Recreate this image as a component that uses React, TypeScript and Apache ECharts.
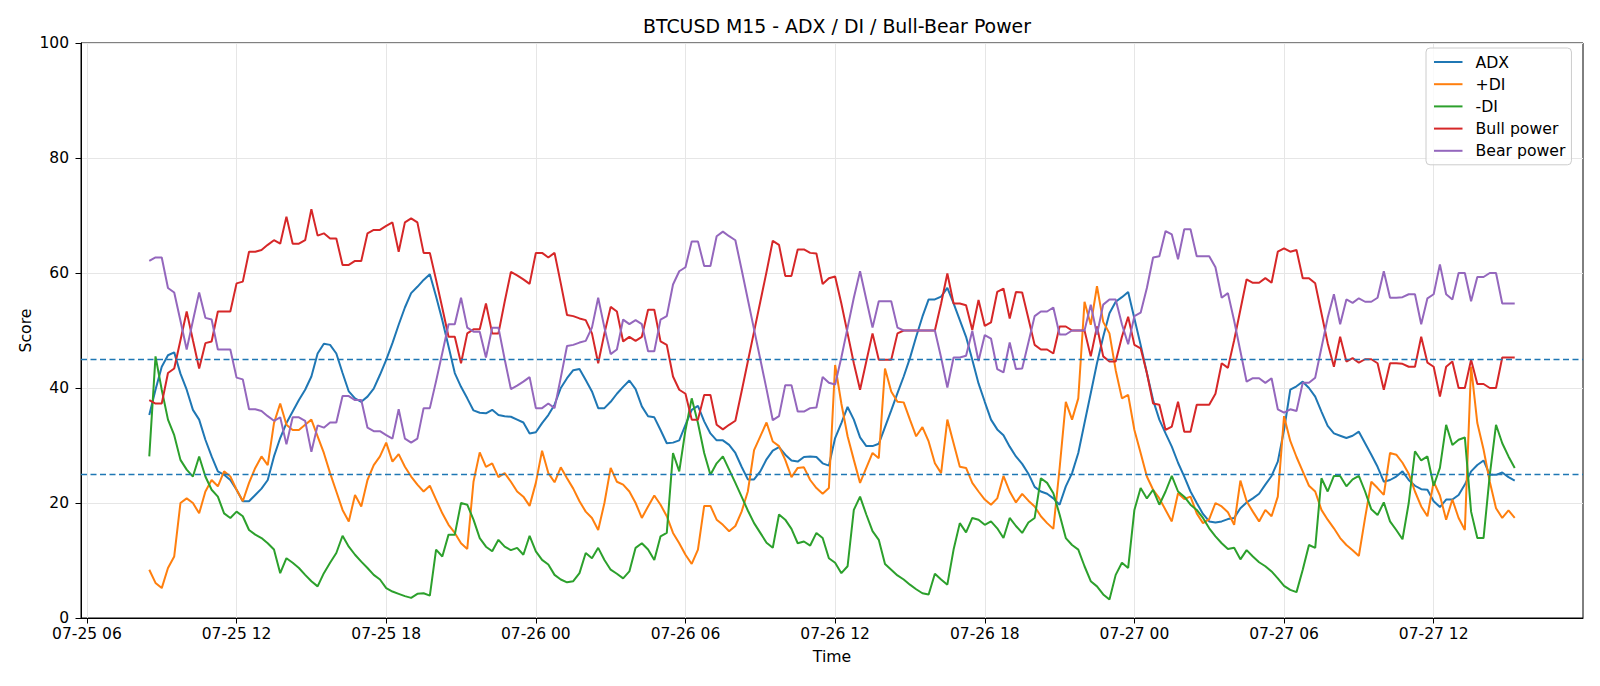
import React, { useEffect, useRef } from 'react';
import * as echarts from 'echarts';

// 15-minute bars, first bar 07-25 08:30 (hours counted from 07-25 00:00)
const START_HOUR = 8.5;
const STEP_HOURS = 0.25;

const TICK_HOURS = [6, 12, 18, 24, 30, 36, 42, 48, 54, 60];
const TICK_LABELS = [
  '07-25 06', '07-25 12', '07-25 18', '07-26 00', '07-26 06',
  '07-26 12', '07-26 18', '07-27 00', '07-27 06', '07-27 12',
];

const ADX = [
  35.3, 39.7, 43.7, 45.7, 46.2, 42.5, 39.7, 36.2, 34.5, 31.0, 28.1, 25.5, 24.9, 24.0, 22.3, 20.3, 20.3, 21.4, 22.5, 24.0,
  28.1, 31.3, 33.9, 35.9, 37.9, 39.7, 42.0, 46.0, 47.7, 47.5, 46.0, 42.6, 39.4, 38.2, 37.6, 38.5, 39.9, 42.3, 44.9, 47.8,
  51.0, 54.0, 56.5, 57.6, 58.8, 59.8, 55.9, 51.8, 47.2, 42.6, 40.2, 38.2, 36.1, 35.7, 35.6, 36.2, 35.3, 35.1, 35.0, 34.5,
  34.0, 32.1, 32.3, 33.9, 35.3, 37.1, 40.0, 41.7, 43.1, 43.3, 41.4, 39.4, 36.5, 36.5, 37.6, 39.0, 40.2, 41.3, 39.8, 36.8,
  35.1, 34.9, 32.7, 30.4, 30.5, 30.9, 33.6, 36.2, 36.9, 34.2, 32.1, 30.9, 30.9, 30.1, 28.7, 26.3, 24.1, 24.1, 25.5, 27.6,
  29.1, 29.7, 28.4, 27.4, 27.2, 28.0, 28.1, 28.0, 26.9, 26.5, 31.3, 33.9, 36.7, 34.5, 31.4, 29.9, 29.9, 30.3, 33.2, 36.1,
  39.1, 42.0, 45.2, 48.9, 52.4, 55.4, 55.4, 55.9, 57.4, 54.7, 51.8, 48.9, 44.9, 40.8, 37.6, 34.5, 32.8, 31.8, 29.8, 28.1,
  26.8, 25.1, 22.8, 22.0, 21.6, 20.8, 19.7, 22.9, 25.2, 28.7, 33.9, 39.1, 44.3, 48.9, 53.0, 55.0, 55.8, 56.7, 52.1, 47.5,
  42.6, 37.9, 34.5, 32.1, 29.8, 27.0, 24.6, 22.0, 20.0, 18.1, 16.8, 16.6, 16.8, 17.2, 17.4, 19.1, 20.1, 20.8, 21.6, 23.2,
  24.7, 27.2, 32.7, 39.7, 40.3, 41.1, 40.0, 38.5, 35.9, 33.4, 32.1, 31.7, 31.3, 31.7, 32.4, 30.4, 28.4, 26.3, 23.7, 24.0,
  24.6, 25.5, 24.0, 23.0, 22.4, 22.3, 20.3, 19.3, 20.6, 20.6, 21.4, 23.2, 25.5, 26.6, 27.4, 24.9, 24.9, 25.3, 24.5, 23.9,
];

const PLUS_DI = [
  8.4, 6.1, 5.2, 8.7, 10.7, 20.0, 20.8, 20.0, 18.2, 22.0, 24.0, 22.9, 25.5, 24.6, 22.3, 20.3, 23.5, 26.1, 28.1, 26.6,
  33.9, 37.3, 33.6, 32.7, 32.7, 33.6, 34.5, 31.6, 28.7, 25.2, 22.0, 18.8, 16.8, 21.4, 19.4, 24.0, 26.6, 28.1, 30.5, 27.2,
  28.5, 26.3, 24.6, 23.2, 22.0, 23.0, 20.6, 18.2, 16.2, 14.8, 13.0, 12.0, 23.7, 28.8, 26.3, 26.9, 24.5, 25.2, 23.7, 22.0,
  21.1, 19.5, 23.5, 29.1, 25.2, 23.6, 26.2, 24.3, 22.5, 20.3, 18.5, 17.4, 15.3, 20.0, 26.1, 23.7, 23.2, 22.0, 20.0, 17.4,
  19.4, 21.3, 19.7, 17.7, 14.8, 13.0, 11.0, 9.4, 11.9, 19.5, 19.5, 17.1, 16.2, 15.1, 16.0, 18.5, 22.0, 29.2, 31.6, 34.0,
  30.7, 29.9, 27.5, 24.5, 26.1, 26.2, 24.0, 22.6, 21.6, 22.6, 44.0, 37.3, 31.6, 27.5, 23.5, 26.1, 28.7, 27.8, 43.4, 39.4,
  37.6, 37.5, 34.5, 31.6, 33.2, 30.7, 26.9, 25.2, 34.5, 30.4, 26.3, 26.1, 23.5, 22.0, 20.6, 19.7, 20.8, 24.7, 22.0, 20.1,
  21.6, 20.4, 19.4, 17.7, 16.5, 15.5, 26.0, 37.6, 34.5, 38.2, 55.0, 51.0, 57.7, 51.5, 49.5, 43.1, 38.2, 38.8, 32.7, 28.7,
  24.6, 22.3, 20.8, 18.8, 16.8, 21.7, 20.7, 21.1, 18.2, 16.5, 17.2, 20.0, 19.4, 18.4, 16.2, 23.9, 20.3, 18.5, 16.8, 18.8,
  17.7, 21.1, 35.1, 30.8, 28.0, 25.5, 23.0, 22.0, 18.8, 17.1, 15.6, 13.9, 12.7, 11.8, 10.8, 17.4, 23.7, 22.6, 21.4, 28.7,
  28.4, 27.0, 25.1, 22.0, 19.4, 17.7, 23.7, 21.3, 17.1, 20.6, 17.4, 15.3, 43.7, 33.9, 29.3, 23.7, 19.1, 17.4, 18.7, 17.4,
];

const MINUS_DI = [
  28.1, 45.5, 39.7, 34.5, 31.8, 27.5, 25.8, 24.6, 28.1, 24.6, 22.3, 21.1, 18.2, 17.4, 18.5, 17.7, 15.3, 14.5, 13.9, 13.0,
  11.9, 7.8, 10.4, 9.6, 8.7, 7.5, 6.4, 5.5, 7.8, 9.6, 11.3, 14.3, 12.4, 11.0, 9.8, 8.7, 7.5, 6.7, 5.2, 4.6,
  4.2, 3.8, 3.5, 4.2, 4.3, 3.9, 11.9, 10.7, 14.5, 14.5, 20.0, 19.7, 17.1, 13.9, 12.4, 11.6, 13.6, 12.4, 11.8, 12.2,
  11.0, 14.3, 11.6, 10.1, 9.3, 7.5, 6.7, 6.2, 6.4, 7.8, 11.3, 10.4, 12.2, 10.1, 8.4, 7.7, 6.9, 8.1, 12.2, 13.0,
  11.9, 10.1, 14.2, 14.8, 28.7, 25.5, 32.7, 38.2, 33.9, 28.7, 24.9, 26.9, 28.1, 25.8, 23.5, 21.1, 18.7, 16.5, 14.8, 13.1,
  12.2, 18.0, 17.1, 15.5, 13.0, 13.3, 12.6, 14.8, 13.9, 10.4, 9.6, 7.8, 9.0, 18.8, 21.1, 18.0, 15.1, 13.6, 9.4, 8.4,
  7.4, 6.7, 5.8, 5.0, 4.3, 4.1, 7.7, 6.7, 5.8, 11.9, 16.5, 14.9, 17.4, 17.1, 16.2, 16.8, 15.6, 13.9, 17.4, 16.0,
  14.8, 16.6, 17.4, 24.3, 23.5, 21.7, 18.0, 13.9, 12.7, 11.9, 9.0, 6.4, 5.5, 4.1, 3.2, 7.5, 9.6, 8.7, 18.8, 22.6,
  20.8, 22.3, 19.7, 22.0, 24.7, 22.0, 21.1, 19.7, 18.8, 17.4, 15.6, 14.2, 13.0, 12.0, 12.2, 10.2, 11.8, 10.7, 9.7, 9.0,
  8.1, 6.9, 5.6, 4.9, 4.5, 8.4, 12.7, 12.2, 24.3, 22.0, 24.7, 24.7, 22.9, 24.1, 24.7, 22.0, 18.9, 17.9, 20.1, 16.8,
  15.3, 13.7, 20.0, 29.0, 27.4, 28.1, 23.0, 26.1, 33.6, 30.1, 31.0, 31.4, 18.5, 13.9, 13.9, 24.9, 33.6, 30.4, 28.1, 26.1,
];

const BULL_POWER = [
  37.9, 37.3, 37.3, 42.6, 43.4, 48.3, 53.3, 48.3, 43.4, 47.8, 48.1, 53.3, 53.3, 53.3, 58.2, 58.5, 63.7, 63.7, 64.0, 64.9,
  65.7, 65.1, 69.8, 65.1, 65.1, 65.7, 71.1, 66.5, 66.9, 66.0, 66.0, 61.4, 61.4, 62.1, 62.1, 66.9, 67.5, 67.5, 68.2, 68.8,
  63.7, 68.8, 69.5, 68.8, 63.5, 63.5, 58.8, 53.9, 48.9, 48.9, 44.3, 49.5, 50.2, 50.2, 54.7, 49.5, 49.5, 55.0, 60.2, 59.6,
  58.9, 58.1, 63.5, 63.5, 62.7, 63.5, 58.2, 52.7, 52.5, 52.1, 51.8, 49.5, 44.3, 49.5, 54.1, 53.3, 48.1, 48.9, 48.2, 48.9,
  53.6, 53.6, 48.1, 47.5, 42.0, 39.7, 39.0, 34.5, 34.5, 38.8, 38.8, 33.6, 32.8, 33.6, 34.3, 39.4, 44.6, 49.8, 55.0, 60.2,
  65.6, 64.9, 59.5, 59.5, 64.1, 64.1, 63.5, 63.4, 58.1, 59.1, 59.4, 54.7, 49.5, 44.3, 39.7, 44.6, 49.5, 44.9, 44.9, 44.9,
  49.5, 50.0, 50.0, 50.0, 50.0, 50.0, 50.0, 54.7, 59.9, 54.7, 54.7, 54.4, 50.1, 55.3, 50.8, 51.4, 56.7, 57.3, 52.1, 56.7,
  56.6, 52.1, 47.5, 46.7, 46.7, 46.0, 50.7, 50.7, 50.0, 50.0, 50.0, 45.5, 50.7, 45.5, 44.6, 44.6, 48.9, 52.4, 47.5, 46.9,
  42.6, 37.3, 37.1, 32.7, 33.3, 37.6, 32.4, 32.4, 37.1, 37.1, 37.1, 39.0, 44.3, 43.5, 48.3, 53.6, 58.9, 58.3, 58.3, 59.1,
  58.3, 63.7, 64.3, 63.7, 64.0, 59.1, 59.1, 58.2, 53.0, 47.8, 43.7, 48.9, 44.6, 45.2, 44.4, 45.0, 45.0, 44.3, 39.7, 44.3,
  44.3, 44.2, 43.7, 43.7, 48.9, 44.4, 43.7, 38.5, 43.7, 44.6, 40.0, 40.0, 44.9, 40.7, 40.7, 40.0, 40.0, 45.3, 45.3, 45.3,
];

const BEAR_POWER = [
  62.1, 62.7, 62.7, 57.4, 56.6, 51.7, 46.7, 51.7, 56.6, 52.2, 51.9, 46.7, 46.7, 46.7, 41.8, 41.5, 36.3, 36.3, 36.0, 35.1,
  34.3, 34.9, 30.2, 34.9, 34.9, 34.3, 28.9, 33.5, 33.1, 34.0, 34.0, 38.6, 38.6, 37.9, 37.9, 33.1, 32.5, 32.5, 31.8, 31.2,
  36.3, 31.2, 30.5, 31.2, 36.5, 36.5, 41.2, 46.1, 51.1, 51.1, 55.7, 50.5, 49.8, 49.8, 45.3, 50.5, 50.5, 45.0, 39.8, 40.4,
  41.1, 41.9, 36.5, 36.5, 37.3, 36.5, 41.8, 47.3, 47.5, 47.9, 48.2, 50.5, 55.7, 50.5, 45.9, 46.7, 51.9, 51.1, 51.8, 51.1,
  46.4, 46.4, 51.9, 52.5, 58.0, 60.3, 61.0, 65.5, 65.5, 61.2, 61.2, 66.4, 67.2, 66.4, 65.7, 60.6, 55.4, 50.2, 45.0, 39.8,
  34.4, 35.1, 40.5, 40.5, 35.9, 35.9, 36.5, 36.6, 41.9, 40.9, 40.6, 45.3, 50.5, 55.7, 60.3, 55.4, 50.5, 55.1, 55.1, 55.1,
  50.5, 50.0, 50.0, 50.0, 50.0, 50.0, 50.0, 45.3, 40.1, 45.3, 45.3, 45.6, 49.9, 44.7, 49.2, 48.6, 43.3, 42.7, 47.9, 43.3,
  43.4, 47.9, 52.5, 53.3, 53.3, 54.0, 49.3, 49.3, 50.0, 50.0, 50.0, 54.5, 49.3, 54.5, 55.4, 55.4, 51.1, 47.6, 52.5, 53.1,
  57.4, 62.7, 62.9, 67.3, 66.7, 62.4, 67.6, 67.6, 62.9, 62.9, 62.9, 61.0, 55.7, 56.5, 51.7, 46.4, 41.1, 41.7, 41.7, 40.9,
  41.7, 36.3, 35.7, 36.3, 36.0, 40.9, 40.9, 41.8, 47.0, 52.2, 56.3, 51.1, 55.4, 54.8, 55.6, 55.0, 55.0, 55.7, 60.3, 55.7,
  55.7, 55.8, 56.3, 56.3, 51.1, 55.6, 56.3, 61.5, 56.3, 55.4, 60.0, 60.0, 55.1, 59.3, 59.3, 60.0, 60.0, 54.7, 54.7, 54.7,
];

const THRESHOLDS = [25, 45];

const SERIES_NAMES = ['ADX', '+DI', '-DI', 'Bull power', 'Bear power'];
const SERIES_COLORS = ['#1f77b4', '#ff7f0e', '#2ca02c', '#d62728', '#9467bd'];

const GRID = { left: 81, right: 17, top: 43, bottom: 68 };
const FONT = 'DejaVu Sans';

export default function App() {
  const ref = useRef<HTMLDivElement>(null);

  useEffect(() => {
    if (!ref.current) return;
    const chart = echarts.init(ref.current, null, { renderer: 'svg' });

    const hours = ADX.map((_, i) => START_HOUR + i * STEP_HOURS);
    const span = hours[hours.length - 1] - hours[0];
    const xMin = hours[0] - span * 0.05;
    const xMax = hours[hours.length - 1] + span * 0.05;
    const toPairs = (vals: number[]) => vals.map((v, i) => [hours[i], v]);
    const allValues = [ADX, PLUS_DI, MINUS_DI, BULL_POWER, BEAR_POWER];

    const tickLabel = (v: number) => {
      const k = TICK_HOURS.findIndex((h) => Math.abs(h - v) < 1e-6);
      return k >= 0 ? TICK_LABELS[k] : '';
    };

    const series: any[] = SERIES_NAMES.map((name, s) => ({
      name,
      type: 'line',
      data: toPairs(allValues[s]),
      showSymbol: false,
      symbol: 'none',
      color: SERIES_COLORS[s],
      lineStyle: { width: 2, color: SERIES_COLORS[s] },
      z: 3,
    }));
    series[series.length - 1].markLine = {
      silent: true,
      symbol: 'none',
      label: { show: false },
      lineStyle: { color: '#1f77b4', type: [6, 3.5], width: 1.4 },
      data: THRESHOLDS.map((y) => ({ yAxis: y })),
      z: 4,
    };

    const plotCenterX = GRID.left + (1600 - GRID.left - GRID.right) / 2;

    chart.setOption({
      animation: false,
      backgroundColor: '#ffffff',
      textStyle: { fontFamily: FONT },
      title: {
        text: 'BTCUSD M15 - ADX / DI / Bull-Bear Power',
        left: plotCenterX,
        textAlign: 'center',
        top: 11,
        textStyle: { fontSize: 18.9, fontWeight: 'normal', color: '#000', fontFamily: FONT },
      },
      grid: {
        ...GRID,
        show: true,
        borderColor: '#000',
        borderWidth: 1,
        backgroundColor: 'transparent',
      },
      legend: {
        orient: 'vertical',
        left: 1426,
        top: 48,
        padding: [5, 6, 5, 8],
        itemGap: 4.2,
        itemWidth: 28.5,
        itemHeight: 2,
        icon: 'rect',
        selectedMode: false,
        backgroundColor: 'rgba(255,255,255,0.8)',
        borderColor: '#cccccc',
        borderWidth: 1,
        borderRadius: 4,
        textStyle: { fontSize: 15.7, color: '#000', lineHeight: 18, padding: [0, 0, 0, 8], fontFamily: FONT },
        data: SERIES_NAMES,
      },
      xAxis: {
        type: 'value',
        min: xMin,
        max: xMax,
        name: 'Time',
        nameLocation: 'middle',
        nameGap: 30,
        nameMoveOverlap: false,
        nameTextStyle: { fontSize: 15.7, color: '#000', fontFamily: FONT },
        axisLine: { show: true, onZero: false, lineStyle: { color: '#000', width: 1 } },
        axisTick: { show: true, customValues: TICK_HOURS, length: 5.5, lineStyle: { color: '#000' } },
        axisLabel: {
          customValues: TICK_HOURS,
          formatter: tickLabel,
          fontSize: 15.5,
          color: '#000',
          margin: 8,
          fontFamily: FONT,
        },
        splitLine: { show: true, lineStyle: { color: '#e6e6e6', width: 1 } },
      },
      yAxis: {
        type: 'value',
        min: 0,
        max: 100,
        interval: 20,
        name: 'Score',
        nameLocation: 'middle',
        nameRotate: 90,
        nameGap: 48,
        nameMoveOverlap: false,
        nameTextStyle: { fontSize: 15.7, color: '#000', fontFamily: FONT },
        axisLine: { show: true, lineStyle: { color: '#000', width: 1 } },
        axisTick: { show: true, length: 5.5, lineStyle: { color: '#000' } },
        axisLabel: { fontSize: 15.5, color: '#000', margin: 12, fontFamily: FONT },
        splitLine: { show: true, lineStyle: { color: '#e6e6e6', width: 1 } },
      },
      series,
    });

    return () => chart.dispose();
  }, []);

  return (
    <div
      ref={ref}
      style={{ position: 'fixed', left: 0, top: 0, width: 1600, height: 686, background: '#ffffff' }}
    />
  );
}
